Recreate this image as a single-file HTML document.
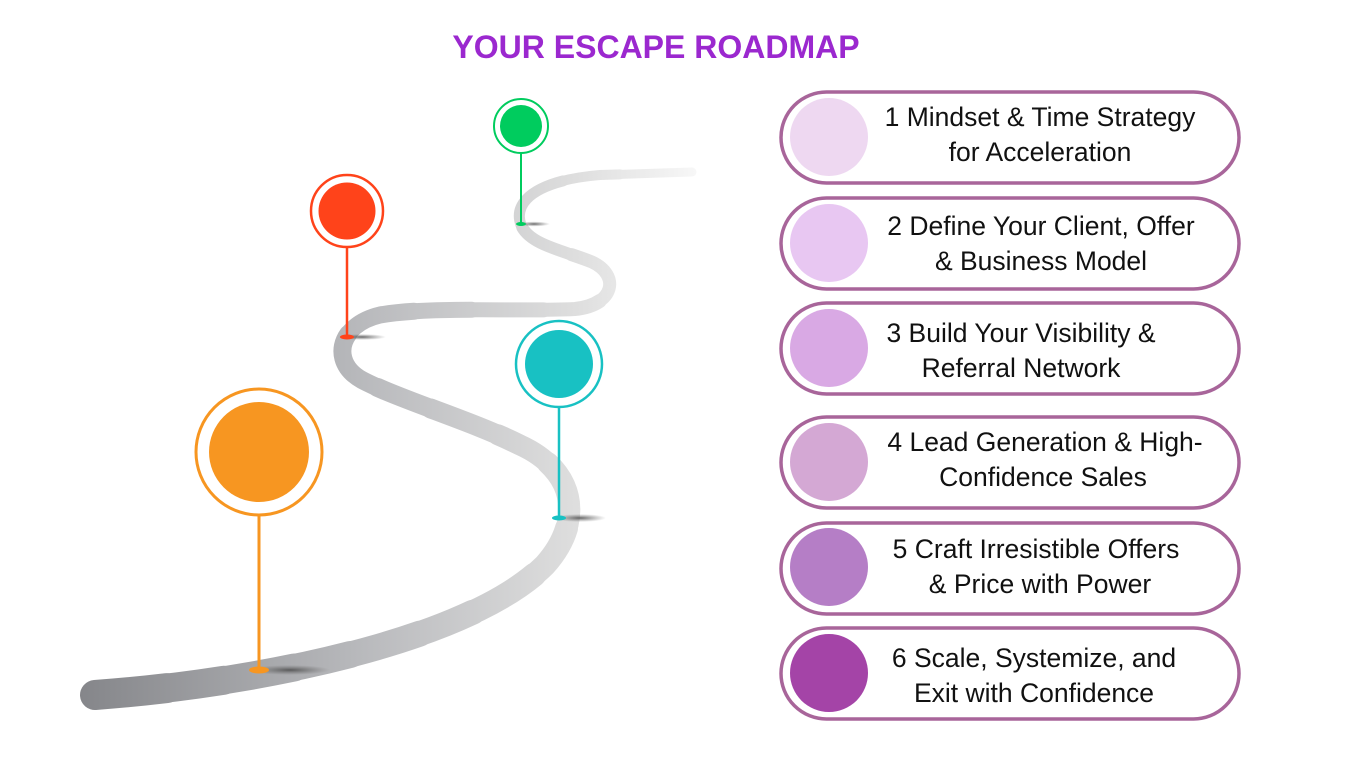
<!DOCTYPE html>
<html><head><meta charset="utf-8"><style>
html,body{margin:0;padding:0;background:#fff;width:1366px;height:768px;overflow:hidden}
svg{display:block}
text{font-family:"Liberation Sans",sans-serif}
</style></head><body>
<svg width="1366" height="768" viewBox="0 0 1366 768" xmlns="http://www.w3.org/2000/svg">
<defs>
<linearGradient id="g" x1="80" y1="0" x2="700" y2="0" gradientUnits="userSpaceOnUse">
<stop offset="0" stop-color="#85868a"/><stop offset="0.45" stop-color="#b8b9bc"/><stop offset="0.8" stop-color="#dedede"/><stop offset="1" stop-color="#f8f8f8"/></linearGradient>
<radialGradient id="sh"><stop offset="0" stop-color="#444" stop-opacity=".8"/><stop offset="1" stop-color="#666" stop-opacity="0"/></radialGradient>
<path id="road" d="M95,695 C260,683 470,640 545,565 C585,520 575,470 520,445 C470,420 400,400 362,380 C330,362 338,325 380,315 C430,306 520,312 575,309 C615,305 620,275 592,262 C562,250 530,245 521,225 C512,200 540,180 600,175 L692,172"/>
</defs>
<text x="656" y="58" text-anchor="middle" font-size="32" font-weight="bold" fill="#9b28cf">YOUR ESCAPE ROADMAP</text>

<g fill="none" stroke="url(#g)" stroke-linecap="round">
<use href="#road" stroke-width="9" stroke-dasharray="100 200" pathLength="100"/>
<path d="M95,695 C260,683 470,640 545,565 C585,520 575,470 520,445 C470,420 400,400 362,380 C330,362 338,325 380,315 C430,306 520,312 575,309 C615,305 620,275 592,262 C562,250 530,245 521,225 C512,200 540,180 600,175 L692,172" pathLength="100" stroke-width="9" stroke-dasharray="100 200"/>
<path d="M95,695 C260,683 470,640 545,565 C585,520 575,470 520,445 C470,420 400,400 362,380 C330,362 338,325 380,315 C430,306 520,312 575,309 C615,305 620,275 592,262 C562,250 530,245 521,225 C512,200 540,180 600,175 L692,172" pathLength="100" stroke-width="10" stroke-dasharray="95 200"/>
<path d="M95,695 C260,683 470,640 545,565 C585,520 575,470 520,445 C470,420 400,400 362,380 C330,362 338,325 380,315 C430,306 520,312 575,309 C615,305 620,275 592,262 C562,250 530,245 521,225 C512,200 540,180 600,175 L692,172" pathLength="100" stroke-width="11" stroke-dasharray="91 200"/>
<path d="M95,695 C260,683 470,640 545,565 C585,520 575,470 520,445 C470,420 400,400 362,380 C330,362 338,325 380,315 C430,306 520,312 575,309 C615,305 620,275 592,262 C562,250 530,245 521,225 C512,200 540,180 600,175 L692,172" pathLength="100" stroke-width="12" stroke-dasharray="86 200"/>
<path d="M95,695 C260,683 470,640 545,565 C585,520 575,470 520,445 C470,420 400,400 362,380 C330,362 338,325 380,315 C430,306 520,312 575,309 C615,305 620,275 592,262 C562,250 530,245 521,225 C512,200 540,180 600,175 L692,172" pathLength="100" stroke-width="13" stroke-dasharray="82 200"/>
<path d="M95,695 C260,683 470,640 545,565 C585,520 575,470 520,445 C470,420 400,400 362,380 C330,362 338,325 380,315 C430,306 520,312 575,309 C615,305 620,275 592,262 C562,250 530,245 521,225 C512,200 540,180 600,175 L692,172" pathLength="100" stroke-width="14" stroke-dasharray="77 200"/>
<path d="M95,695 C260,683 470,640 545,565 C585,520 575,470 520,445 C470,420 400,400 362,380 C330,362 338,325 380,315 C430,306 520,312 575,309 C615,305 620,275 592,262 C562,250 530,245 521,225 C512,200 540,180 600,175 L692,172" pathLength="100" stroke-width="15" stroke-dasharray="73 200"/>
<path d="M95,695 C260,683 470,640 545,565 C585,520 575,470 520,445 C470,420 400,400 362,380 C330,362 338,325 380,315 C430,306 520,312 575,309 C615,305 620,275 592,262 C562,250 530,245 521,225 C512,200 540,180 600,175 L692,172" pathLength="100" stroke-width="16" stroke-dasharray="68 200"/>
<path d="M95,695 C260,683 470,640 545,565 C585,520 575,470 520,445 C470,420 400,400 362,380 C330,362 338,325 380,315 C430,306 520,312 575,309 C615,305 620,275 592,262 C562,250 530,245 521,225 C512,200 540,180 600,175 L692,172" pathLength="100" stroke-width="17" stroke-dasharray="64 200"/>
<path d="M95,695 C260,683 470,640 545,565 C585,520 575,470 520,445 C470,420 400,400 362,380 C330,362 338,325 380,315 C430,306 520,312 575,309 C615,305 620,275 592,262 C562,250 530,245 521,225 C512,200 540,180 600,175 L692,172" pathLength="100" stroke-width="18" stroke-dasharray="59 200"/>
<path d="M95,695 C260,683 470,640 545,565 C585,520 575,470 520,445 C470,420 400,400 362,380 C330,362 338,325 380,315 C430,306 520,312 575,309 C615,305 620,275 592,262 C562,250 530,245 521,225 C512,200 540,180 600,175 L692,172" pathLength="100" stroke-width="19" stroke-dasharray="54 200"/>
<path d="M95,695 C260,683 470,640 545,565 C585,520 575,470 520,445 C470,420 400,400 362,380 C330,362 338,325 380,315 C430,306 520,312 575,309 C615,305 620,275 592,262 C562,250 530,245 521,225 C512,200 540,180 600,175 L692,172" pathLength="100" stroke-width="20" stroke-dasharray="50 200"/>
<path d="M95,695 C260,683 470,640 545,565 C585,520 575,470 520,445 C470,420 400,400 362,380 C330,362 338,325 380,315 C430,306 520,312 575,309 C615,305 620,275 592,262 C562,250 530,245 521,225 C512,200 540,180 600,175 L692,172" pathLength="100" stroke-width="21" stroke-dasharray="45 200"/>
<path d="M95,695 C260,683 470,640 545,565 C585,520 575,470 520,445 C470,420 400,400 362,380 C330,362 338,325 380,315 C430,306 520,312 575,309 C615,305 620,275 592,262 C562,250 530,245 521,225 C512,200 540,180 600,175 L692,172" pathLength="100" stroke-width="22" stroke-dasharray="41 200"/>
<path d="M95,695 C260,683 470,640 545,565 C585,520 575,470 520,445 C470,420 400,400 362,380 C330,362 338,325 380,315 C430,306 520,312 575,309 C615,305 620,275 592,262 C562,250 530,245 521,225 C512,200 540,180 600,175 L692,172" pathLength="100" stroke-width="23" stroke-dasharray="36 200"/>
<path d="M95,695 C260,683 470,640 545,565 C585,520 575,470 520,445 C470,420 400,400 362,380 C330,362 338,325 380,315 C430,306 520,312 575,309 C615,305 620,275 592,262 C562,250 530,245 521,225 C512,200 540,180 600,175 L692,172" pathLength="100" stroke-width="24" stroke-dasharray="32 200"/>
<path d="M95,695 C260,683 470,640 545,565 C585,520 575,470 520,445 C470,420 400,400 362,380 C330,362 338,325 380,315 C430,306 520,312 575,309 C615,305 620,275 592,262 C562,250 530,245 521,225 C512,200 540,180 600,175 L692,172" pathLength="100" stroke-width="25" stroke-dasharray="27 200"/>
<path d="M95,695 C260,683 470,640 545,565 C585,520 575,470 520,445 C470,420 400,400 362,380 C330,362 338,325 380,315 C430,306 520,312 575,309 C615,305 620,275 592,262 C562,250 530,245 521,225 C512,200 540,180 600,175 L692,172" pathLength="100" stroke-width="26" stroke-dasharray="23 200"/>
<path d="M95,695 C260,683 470,640 545,565 C585,520 575,470 520,445 C470,420 400,400 362,380 C330,362 338,325 380,315 C430,306 520,312 575,309 C615,305 620,275 592,262 C562,250 530,245 521,225 C512,200 540,180 600,175 L692,172" pathLength="100" stroke-width="27" stroke-dasharray="18 200"/>
<path d="M95,695 C260,683 470,640 545,565 C585,520 575,470 520,445 C470,420 400,400 362,380 C330,362 338,325 380,315 C430,306 520,312 575,309 C615,305 620,275 592,262 C562,250 530,245 521,225 C512,200 540,180 600,175 L692,172" pathLength="100" stroke-width="28" stroke-dasharray="14 200"/>
<path d="M95,695 C260,683 470,640 545,565 C585,520 575,470 520,445 C470,420 400,400 362,380 C330,362 338,325 380,315 C430,306 520,312 575,309 C615,305 620,275 592,262 C562,250 530,245 521,225 C512,200 540,180 600,175 L692,172" pathLength="100" stroke-width="29" stroke-dasharray="9 200"/>
<path d="M95,695 C260,683 470,640 545,565 C585,520 575,470 520,445 C470,420 400,400 362,380 C330,362 338,325 380,315 C430,306 520,312 575,309 C615,305 620,275 592,262 C562,250 530,245 521,225 C512,200 540,180 600,175 L692,172" pathLength="100" stroke-width="30" stroke-dasharray="5 200"/>
</g>

<ellipse cx="290" cy="670" rx="40" ry="5" fill="url(#sh)"/>
<ellipse cx="362" cy="337" rx="24" ry="3" fill="url(#sh)"/>
<ellipse cx="534" cy="224" rx="16" ry="2.5" fill="url(#sh)"/>
<ellipse cx="580" cy="518" rx="26" ry="4" fill="url(#sh)"/>

<line x1="259" y1="512" x2="259" y2="668" stroke="#f79621" stroke-width="3"/>
<ellipse cx="259" cy="670" rx="10" ry="3.5" fill="#f79621"/>
<circle cx="259" cy="452" r="63" fill="#fff" stroke="#f79621" stroke-width="3"/>
<circle cx="259" cy="452" r="50" fill="#f79621"/>
<line x1="347" y1="246" x2="347" y2="336" stroke="#ff431a" stroke-width="2.5"/>
<ellipse cx="347" cy="337" rx="7" ry="2.5" fill="#ff431a"/>
<circle cx="347" cy="211" r="36" fill="#fff" stroke="#ff431a" stroke-width="2.5"/>
<circle cx="347" cy="211" r="28.5" fill="#ff431a"/>
<line x1="521" y1="152" x2="521" y2="223" stroke="#00cc5e" stroke-width="2"/>
<ellipse cx="521" cy="224" rx="5" ry="2" fill="#00cc5e"/>
<circle cx="521" cy="126" r="27" fill="#fff" stroke="#00cc5e" stroke-width="2"/>
<circle cx="521" cy="126" r="21" fill="#00cc5e"/>
<line x1="559" y1="408" x2="559" y2="517" stroke="#18c1c3" stroke-width="2.5"/>
<ellipse cx="559" cy="518" rx="7" ry="2.5" fill="#18c1c3"/>
<circle cx="559" cy="364" r="43" fill="#fff" stroke="#18c1c3" stroke-width="2.5"/>
<circle cx="559" cy="364" r="34" fill="#18c1c3"/>

<g stroke="#a8659a" stroke-width="3.5" fill="#fff">
<rect x="781" y="92" width="458" height="91" rx="45.5"/>
<rect x="781" y="198" width="458" height="91" rx="45.5"/>
<rect x="781" y="303" width="458" height="91" rx="45.5"/>
<rect x="781" y="417" width="458" height="91" rx="45.5"/>
<rect x="781" y="523" width="458" height="91" rx="45.5"/>
<rect x="781" y="628" width="458" height="91" rx="45.5"/>
</g>
<circle cx="829" cy="137" r="39" fill="#eed8f1"/>
<circle cx="829" cy="243" r="39" fill="#e8c7f2"/>
<circle cx="829" cy="348" r="39" fill="#d9a9e4"/>
<circle cx="829" cy="462" r="39" fill="#d4a8d4"/>
<circle cx="829" cy="567" r="39" fill="#b57ec6"/>
<circle cx="829" cy="673" r="39" fill="#a444a7"/>
<g font-size="26.5" fill="#111" text-anchor="middle">
<text x="1040" y="126">1 Mindset &amp; Time Strategy</text>
<text x="1040" y="161">for Acceleration</text>
<text x="1041" y="235">2 Define Your Client, Offer</text>
<text x="1041" y="270">&amp; Business Model</text>
<text x="1021" y="342">3 Build Your Visibility &amp;</text>
<text x="1021" y="377">Referral Network</text>
<text x="1045" y="451">4 Lead Generation &amp; High-</text>
<text x="1043" y="486">Confidence Sales</text>
<text x="1036" y="558">5 Craft Irresistible Offers</text>
<text x="1040" y="593">&amp; Price with Power</text>
<text x="1034" y="667">6 Scale, Systemize, and</text>
<text x="1034" y="702">Exit with Confidence</text>
</g>
</svg>
</body></html>
